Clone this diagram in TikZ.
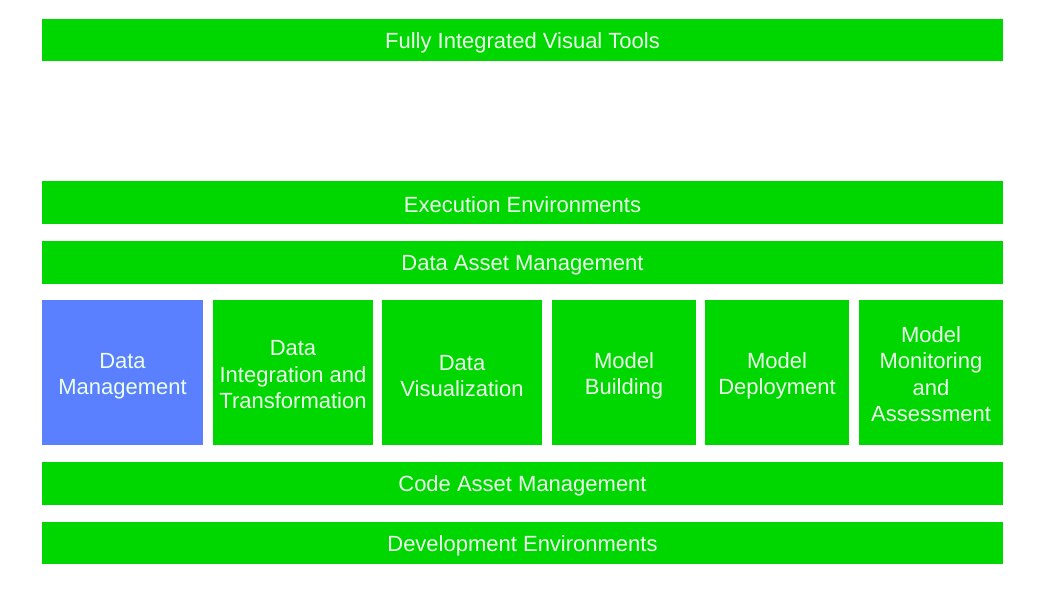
\documentclass[tikz,border=0pt]{standalone}
\usepackage{fontspec}
\setmainfont{Liberation Sans}
\definecolor{barg}{RGB}{0,214,0}
\definecolor{boxb}{RGB}{90,127,255}
\definecolor{txt}{RGB}{236,255,236}
\begin{document}
\begin{tikzpicture}[x=1pt,y=-1pt,
  base/.style={inner sep=0pt,outer sep=0pt},
  bar/.style={base,fill=barg},
  box/.style={base,fill=barg},
  bluebox/.style={base,fill=boxb},
  lbl/.style={inner sep=0pt,text=txt,font=\fontsize{22}{26.5}\selectfont,align=center,yshift=-2.5pt}]
\useasboundingbox (0,0) rectangle (1053,598);
\fill[white] (0,0) rectangle (1053,598);
% horizontal bars
\node[bar,minimum width=961pt,minimum height=42pt] (fivt) at (522.5,40) {};
\node[bar,minimum width=961pt,minimum height=43pt] (exe) at (522.5,202.5) {};
\node[bar,minimum width=961pt,minimum height=43pt] (dam) at (522.5,262.5) {};
\node[bar,minimum width=961pt,minimum height=43pt] (cam) at (522.5,483.5) {};
\node[bar,minimum width=961pt,minimum height=42pt] (dev) at (522.5,543) {};
% boxes
\node[bluebox,minimum width=161pt,minimum height=145pt] (dm) at (122.5,372.5) {};
\node[box,minimum width=160pt,minimum height=145pt] (dit) at (293,372.5) {};
\node[box,minimum width=160pt,minimum height=145pt] (dv) at (462,372.5) {};
\node[box,minimum width=144pt,minimum height=145pt] (mb) at (624,372.5) {};
\node[box,minimum width=144pt,minimum height=145pt] (md) at (777,372.5) {};
\node[box,minimum width=144pt,minimum height=145pt] (mm) at (931,372.5) {};
% labels
\node[lbl] (tfivt) at (fivt.center) {Fully Integrated Visual Tools};
\node[lbl] (texe) at (exe.center) {Execution Environments};
\node[lbl] (tdam) at (dam.center) {Data Asset Management};
\node[lbl] (tcam) at (cam.center) {Code Asset Management};
\node[lbl] (tdev) at (dev.center) {Development Environments};
\node[lbl,yshift=-1pt] (tdm) at (dm.center) {Data\\Management};
\node[lbl] (tdit) at (dit.center) {Data\\Integration and\\Transformation};
\node[lbl,yshift=-1pt] (tdv) at (dv.center) {Data\\Visualization};
\node[lbl,yshift=-1pt] (tmb) at (mb.center) {Model\\Building};
\node[lbl,yshift=-1pt] (tmd) at (md.center) {Model\\Deployment};
\node[lbl,yshift=1pt] (tmm) at (mm.center) {Model\\Monitoring\\and\\Assessment};
\end{tikzpicture}
\end{document}
